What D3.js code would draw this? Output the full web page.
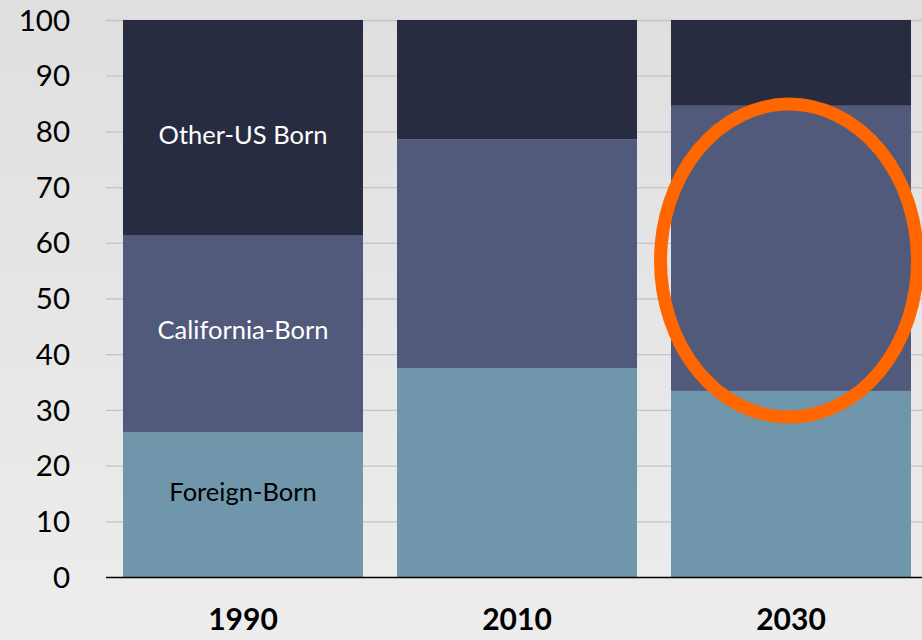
<!DOCTYPE html>
<html>
<head>
<meta charset="utf-8">
<script src="https://cdn.jsdelivr.net/npm/d3@7"></script>
<style>
  html, body { margin: 0; padding: 0; }
  svg { display: block; }
</style>
</head>
<body>
<div id="chart"></div>
<script>
"use strict"

const years = ["1990", "2010", "2030"]
const foreignBorn = [26.0, 37.5, 33.4]
const californiaBorn = [35.4, 41.1, 51.2]
const otherUsBorn = [38.6, 21.4, 15.4]
const seriesNames = ["Foreign-Born", "California-Born", "Other-US Born"]
const seriesColors = ["#7096ab", "#525a7c", "#282c40"]
const labelColors = ["#000000", "#ffffff", "#ffffff"]
const yTicks = [0, 10, 20, 30, 40, 50, 60, 70, 80, 90, 100]

const width = 922, height = 640

const rows = years.map((year, i) => ({
  year,
  "Foreign-Born": foreignBorn[i],
  "California-Born": californiaBorn[i],
  "Other-US Born": otherUsBorn[i]
}))

const svg = d3.select("#chart").append("svg")
  .attr("width", width)
  .attr("height", height)

const grad = svg.append("defs").append("linearGradient")
  .attr("id", "bg")
  .attr("x1", 0).attr("y1", 0).attr("x2", 0).attr("y2", 1)
grad.append("stop").attr("offset", "0%").attr("stop-color", "#dfdfdf")
grad.append("stop").attr("offset", "100%").attr("stop-color", "#ededed")

svg.append("rect")
  .attr("width", width)
  .attr("height", height)
  .attr("fill", "url(#bg)")

const y = d3.scaleLinear().domain([0, 100]).range([577, 20])

// bars 240 wide on a 274 step, last one touching the right edge
const x = d3.scaleBand()
  .domain(years)
  .range([123, 911])
  .paddingInner(34 / 274)
  .paddingOuter(0)

const font = "Lato, 'Open Sans', sans-serif"

// gridlines
svg.append("g")
  .selectAll("line")
  .data(yTicks.filter((d) => d > 0))
  .enter()
    .append("line")
    .attr("x1", 106)
    .attr("x2", width)
    .attr("y1", (d) => y(d) + 0.5)
    .attr("y2", (d) => y(d) + 0.5)
    .attr("stroke", "#c3c3c3")
    .attr("stroke-width", 1.3)

const stack = d3.stack().keys(seriesNames)(rows)

const layers = svg.append("g")
  .selectAll("g")
  .data(stack)
  .enter()
    .append("g")
    .attr("fill", (d, i) => seriesColors[i])

layers.selectAll("rect")
  .data((d) => d)
  .enter()
    .append("rect")
    .attr("x", (d) => x(d.data.year))
    .attr("width", x.bandwidth())
    .attr("y", (d) => y(d[1]))
    .attr("height", (d) => y(d[0]) - y(d[1]))

// series labels inside the first bar
const labelY = [492, 330, 135]
svg.append("g")
  .selectAll("text")
  .data(seriesNames)
  .enter()
    .append("text")
    .attr("x", x(years[0]) + x.bandwidth() / 2)
    .attr("y", (d, i) => labelY[i])
    .attr("dy", "0.35em")
    .attr("text-anchor", "middle")
    .attr("font-family", font)
    .attr("font-size", "25.5px")
    .attr("fill", (d, i) => labelColors[i])
    .text((d) => d)

// y axis labels
svg.append("g")
  .selectAll("text")
  .data(yTicks)
  .enter()
    .append("text")
    .attr("x", 70)
    .attr("y", (d) => y(d))
    .attr("dy", "0.36em")
    .attr("text-anchor", "end")
    .attr("font-family", font)
    .attr("font-size", "29.5px")
    .attr("fill", "#000")
    .text((d) => d)

// x axis baseline
svg.append("line")
  .attr("x1", 106)
  .attr("x2", width)
  .attr("y1", y(0) + 0.5)
  .attr("y2", y(0) + 0.5)
  .attr("stroke", "#000")
  .attr("stroke-width", 1.6)

svg.append("g")
  .selectAll("text")
  .data(years)
  .enter()
    .append("text")
    .attr("x", (d) => x(d) + x.bandwidth() / 2)
    .attr("y", 630)
    .attr("text-anchor", "middle")
    .attr("font-family", font)
    .attr("font-weight", "bold")
    .attr("font-size", "30px")
    .attr("fill", "#000")
    .text((d) => d)

// highlight ring around 2030
svg.append("ellipse")
  .attr("cx", x(years[2]) + x.bandwidth() / 2 - 2)
  .attr("cy", y(56.8))
  .attr("rx", 128.5)
  .attr("ry", 156.5)
  .attr("fill", "none")
  .attr("stroke", "#ff6600")
  .attr("stroke-width", 13)
</script>
</body>
</html>
